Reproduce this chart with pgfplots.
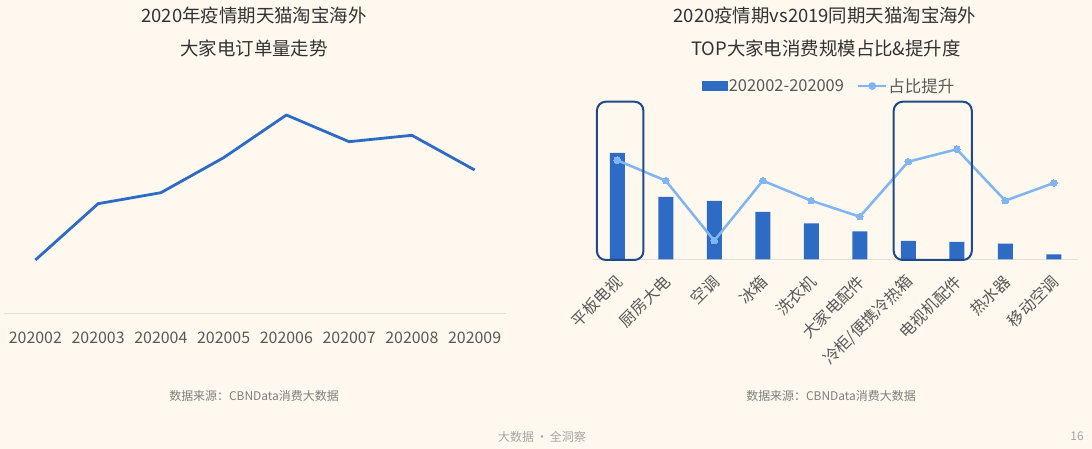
\documentclass[border=0pt]{standalone}
\usepackage{pgfplots}
\pgfplotsset{compat=1.18}
\usepackage{fontspec}
\setmainfont{Noto Sans CJK SC}
\definecolor{bg}{HTML}{FEF8EE}
\definecolor{barblue}{HTML}{2D6BC5}
\definecolor{lineblue}{HTML}{80B5F2}
\definecolor{navy}{HTML}{1F4A8A}
\definecolor{ticktxt}{HTML}{595959}
\definecolor{titletxt}{HTML}{333333}
\definecolor{axgray}{HTML}{E3E0DA}
\definecolor{srcgray}{HTML}{7F7F7F}
\definecolor{footgray}{HTML}{A6A6A6}
\begin{document}
\begin{tikzpicture}[x=1bp,y=1bp]
\fill[bg] (0,0) rectangle (1092,449);
% titles
\node[font=\fontsize{18.5}{22}\selectfont, text=titletxt] at (254,434) {2020年疫情期天猫淘宝海外};
\node[font=\fontsize{18.5}{22}\selectfont, text=titletxt] at (254,401) {大家电订单量走势};
\node[font=\fontsize{18.5}{22}\selectfont, text=titletxt] at (825,434) {2020疫情期vs2019同期天猫淘宝海外};
\node[font=\fontsize{18.5}{22}\selectfont, text=titletxt] at (826,401) {TOP大家电消费规模占比\&提升度};
% sources and footer
\node[font=\fontsize{12}{14}\selectfont, text=srcgray] at (254,53) {数据来源：CBNData消费大数据};
\node[font=\fontsize{12}{14}\selectfont, text=srcgray] at (831,53) {数据来源：CBNData消费大数据};
\node[font=\fontsize{12}{14}\selectfont, text=footgray] at (542,12) {大数据\,·\,全洞察};
\node[font=\fontsize{12}{14}\selectfont, text=footgray] at (1077,13) {16};

% left chart
\begin{axis}[at={(4bp,135.7bp)}, anchor=south west, scale only axis,
  width=502bp, height=220bp, xmin=-0.5, xmax=7.5, ymin=0, ymax=220,
  axis x line=bottom, axis y line=none,
  axis line style={-, draw=axgray, line width=1.5bp},
  xtick={0,...,7},
  xticklabels={202002,202003,202004,202005,202006,202007,202008,202009},
  major tick length=0,
  xticklabel style={font=\fontsize{16}{18}\selectfont, text=ticktxt, yshift=-15bp},
  clip=false]
\addplot[barblue, line width=2.8bp, line join=round] coordinates {
(0,53.3)(1,109.6)(2,120.6)(3,155.6)(4,198.3)(5,171.6)(6,178)(7,143.3)};
\end{axis}

% right chart
\begin{axis}[at={(593bp,189.7bp)}, anchor=south west, scale only axis,
  width=485bp, height=160bp, xmin=-0.5, xmax=9.5, ymin=0, ymax=160,
  axis x line=bottom, axis y line=none,
  axis line style={-, draw=axgray, line width=1.5bp},
  xtick={0,...,9},
  xticklabels={平板电视,厨房大电,空调,冰箱,洗衣机,大家电配件,冷柜/便携冷热箱,电视机配件,热水器,移动空调},
  major tick length=0,
  xticklabel style={font=\fontsize{16}{18}\selectfont, text=ticktxt, rotate=45, anchor=east, xshift=-9bp, yshift=-15bp},
  clip=false,
  legend style={at={(0.4856,1.083)}, anchor=center, draw=none, fill=none,
    legend columns=2, font=\fontsize{16.5}{18}\selectfont, text=ticktxt,
    /tikz/every even column/.append style={column sep=12bp},
    inner sep=0pt, nodes={inner sep=1bp}},
  ]
\addplot[ybar, bar width=15bp, fill=barblue, draw=none,
  legend image code/.code={\fill[barblue] (0bp,-5bp) rectangle (26bp,5bp);}]
  coordinates {(0,106.3)(1,62.3)(2,58.3)(3,47.3)(4,36)(5,28)(6,18.3)(7,17.3)(8,15.6)(9,5)};
\addlegendentry{202002-202009}
\addplot[lineblue, line width=2.5bp, line join=round, mark=*, mark size=3.3bp,
  mark options={fill=lineblue, draw=lineblue, line width=0pt},
  legend image code/.code={\draw[lineblue, line width=2.5bp] (0bp,0bp) -- (28bp,0bp); \fill[lineblue] (14bp,0bp) circle (2.6bp);}]
  coordinates {(0,99)(1,78.6)(2,18.6)(3,78.6)(4,58.6)(5,42.6)(6,97.6)(7,110)(8,58.6)(9,76.3)};
\addlegendentry{占比提升}
\draw[navy, line width=2bp, rounded corners=9bp] (axis cs:-0.42,-0.7) rectangle (axis cs:0.54,157.6);
\draw[navy, line width=2bp, rounded corners=9bp] (axis cs:5.70,-0.7) rectangle (axis cs:7.31,157.6);
\end{axis}
\end{tikzpicture}
\end{document}
